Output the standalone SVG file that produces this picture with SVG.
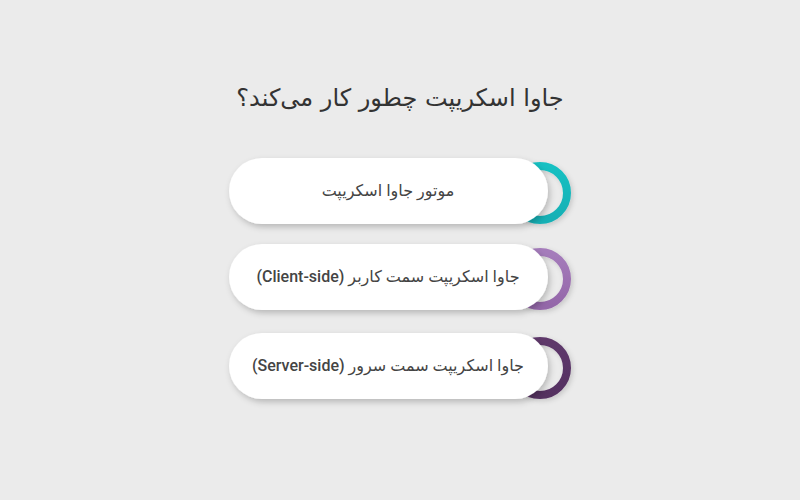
<svg xmlns="http://www.w3.org/2000/svg" width="800" height="500" viewBox="0 0 800 500">
  <defs>
    <style>
      .pill { fill: #ffffff; filter: url(#sh); }
      .ring { fill: none; stroke-width: 8; filter: url(#sh2); }
      .lbl { font-family: Roboto, "DejaVu Sans", sans-serif; font-size: 16px; font-weight: 500; fill: #444444; text-anchor: middle; }
      .title { font-family: "DejaVu Sans", sans-serif; font-size: 24px; fill: #333333; text-anchor: middle; }
    </style>
    <filter id="sh" x="-20%" y="-30%" width="140%" height="170%">
      <feDropShadow dx="2" dy="3" stdDeviation="3" flood-color="#000000" flood-opacity="0.22"/>
    </filter>
    <filter id="sh2" x="-30%" y="-30%" width="160%" height="160%">
      <feDropShadow dx="2" dy="2" stdDeviation="2.5" flood-color="#000000" flood-opacity="0.15"/>
    </filter>
    <linearGradient id="g1" x1="0" y1="0" x2="0" y2="1">
      <stop offset="0" stop-color="#14c0c2"/>
      <stop offset="1" stop-color="#16b0b5"/>
    </linearGradient>
    <linearGradient id="g2" x1="0" y1="0" x2="0" y2="1">
      <stop offset="0" stop-color="#a57cbb"/>
      <stop offset="1" stop-color="#9467a9"/>
    </linearGradient>
    <linearGradient id="g3" x1="0" y1="0" x2="0" y2="1">
      <stop offset="0" stop-color="#5e386b"/>
      <stop offset="1" stop-color="#553061"/>
    </linearGradient>
  </defs>
  <rect width="800" height="500" fill="#ebebeb"/>
  <text class="title" x="400" y="106" direction="rtl">جاوا اسکریپت چطور کار می‌کند؟</text>

  <g id="connectors"></g>

  <g id="node1">
    <circle class="ring" cx="540" cy="193" r="27" stroke="url(#g1)"/>
    <rect class="pill" x="229" y="158" width="319" height="66" rx="33"/>
    <text class="lbl" x="388" y="196" direction="rtl">موتور جاوا اسکریپت</text>
  </g>
  <g id="node2">
    <circle class="ring" cx="540" cy="279" r="27" stroke="url(#g2)"/>
    <rect class="pill" x="229" y="244" width="319" height="66" rx="33"/>
    <text class="lbl" x="388" y="282" direction="rtl">جاوا اسکریپت سمت کاربر (Client-side)</text>
  </g>
  <g id="node3">
    <circle class="ring" cx="540" cy="368" r="27" stroke="url(#g3)"/>
    <rect class="pill" x="229" y="333" width="319" height="66" rx="33"/>
    <text class="lbl" x="388" y="371" direction="rtl">جاوا اسکریپت سمت سرور (Server-side)</text>
  </g>
</svg>
